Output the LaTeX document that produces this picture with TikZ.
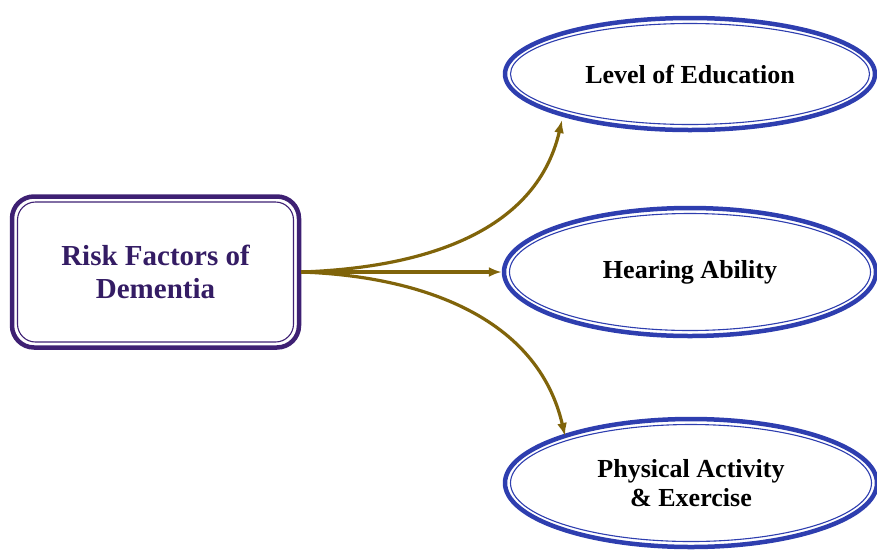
\documentclass[tikz,border=0pt]{standalone}
\usepackage{fontspec}
\setmainfont{Liberation Serif}
\usetikzlibrary{shapes.geometric,arrows.meta}
\definecolor{boxline}{RGB}{62,32,115}
\definecolor{boxtext}{RGB}{52,28,100}
\definecolor{ovalline}{RGB}{46,62,175}
\definecolor{arrowcol}{RGB}{128,100,10}
\tikzset{
  oval/.style={ellipse, draw=ovalline, line width=4.5pt, inner sep=0pt,
    align=center, font=\bfseries\fontsize{26}{29}\selectfont, text=black},
  ovalin/.style={ellipse, draw=ovalline, line width=1.1pt, inner sep=0pt},
  riskbox/.style={rectangle, rounded corners=22pt, draw=boxline, line width=4.5pt,
    inner sep=0pt, align=center, font=\bfseries\fontsize{29}{33}\selectfont, text=boxtext},
  riskin/.style={rectangle, rounded corners=18pt, draw=boxline, line width=1.1pt, inner sep=0pt},
  link/.style={draw=arrowcol, line width=3.2pt, -{Latex[length=13pt,width=10pt]}},
}
\begin{document}
\begin{tikzpicture}[x=1pt,y=-1pt]
\useasboundingbox (0,0) rectangle (877,550);
% central box with a thick outer and thin inner frame
\node[riskin, minimum width=276pt, minimum height=140pt] (riskin) at (155.5,272) {};
\node[riskbox, minimum width=287pt, minimum height=151pt] (risk) at (155.5,272) {Risk Factors of\\Dementia};
% three outcome ovals
\node[ovalin, minimum width=359pt, minimum height=101pt] (eduin) at (690,74) {};
\node[oval, minimum width=370pt, minimum height=112pt] (edu) at (690,74) {Level of Education};
\node[ovalin, minimum width=361pt, minimum height=117pt] (hearin) at (690,272) {};
\node[oval, minimum width=372pt, minimum height=128pt] (hear) at (690,272) {Hearing Ability};
\node[ovalin, minimum width=361pt, minimum height=117pt] (physin) at (691,483) {};
\node[oval, minimum width=372pt, minimum height=128pt] (phys) at (691,483) {Physical Activity\\\& Exercise};
% arrow tips just outside the lower-left and upper-left rims
\coordinate (eduend) at (562,120);
\coordinate (physend) at (565,436);
% connectors
\draw[link] (risk.east) to[out=2, in=-103] (eduend);
\draw[link] (risk.east) -- (hear.west);
\draw[link] (risk.east) to[out=-2, in=103] (physend);
\end{tikzpicture}
\end{document}
